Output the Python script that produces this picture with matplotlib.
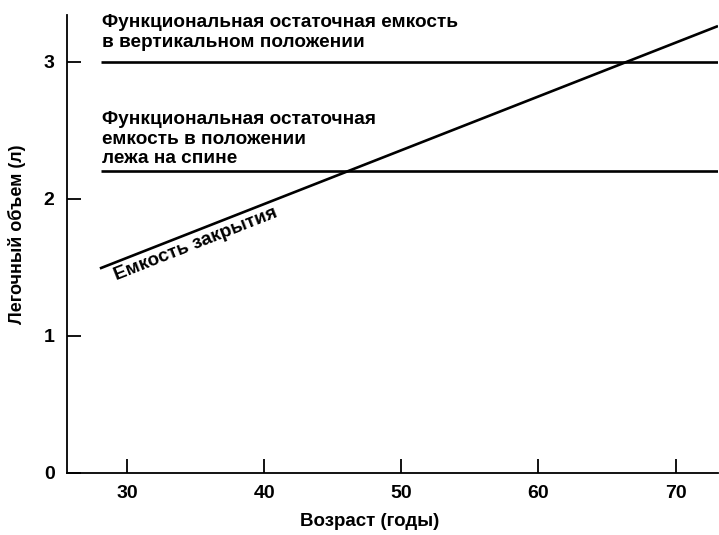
import matplotlib
matplotlib.use('Agg')
import matplotlib.pyplot as plt

plt.rcParams['font.family'] = ['Liberation Sans', 'DejaVu Sans']
plt.rcParams['font.weight'] = 'bold'

# data
age_range = [28.1, 73.1]
frc_upright = 3.0
frc_supine = 2.2
closing_age = [28.0, 73.1]
closing_vol = [1.49, 3.26]

x_ticks = [30, 40, 50, 60, 70]
y_ticks = [0, 1, 2, 3]

fig = plt.figure(figsize=(7.19, 5.35), dpi=100)
ax = fig.add_axes([0.0932, 0.1168, 0.9054, 0.855])

lw = 1.9
ax.plot(age_range, [frc_upright] * 2, color='black', lw=lw, solid_capstyle='butt')
ax.plot(age_range, [frc_supine] * 2, color='black', lw=lw, solid_capstyle='butt')
ax.plot(closing_age, closing_vol, color='black', lw=lw, solid_capstyle='butt')

ax.set_xlim(25.6, 73.1)
ax.set_ylim(0, 3.34)
ax.set_xticks(x_ticks)
ax.set_yticks(y_ticks)
ax.tick_params(direction='in', length=10, width=1.3, labelsize=14, pad=9)
for s in ['top', 'right']:
    ax.spines[s].set_visible(False)
for s in ['left', 'bottom']:
    ax.spines[s].set_linewidth(1.3)

ax.set_xlabel('Возраст (годы)', fontsize=13.5, fontweight='bold')
ax.xaxis.set_label_coords(0.465, -0.088)
ax.set_ylabel('Легочный объем (л)', fontsize=13, fontweight='bold')
ax.yaxis.set_label_coords(-0.063, 0.52)

fs = 13.7
ax.text(28.15, 3.08, 'Функциональная остаточная емкость\nв вертикальном положении',
        fontsize=fs, ha='left', va='bottom', linespacing=1.2)
ax.text(28.15, 2.23, 'Функциональная остаточная\nемкость в положении\nлежа на спине',
        fontsize=fs, ha='left', va='bottom', linespacing=1.2)
ax.text(29.2, 1.40, 'Емкость закрытия', fontsize=fs, rotation=21.5,
        rotation_mode='anchor', ha='left', va='baseline')

fig.savefig('out.png', dpi=100)
